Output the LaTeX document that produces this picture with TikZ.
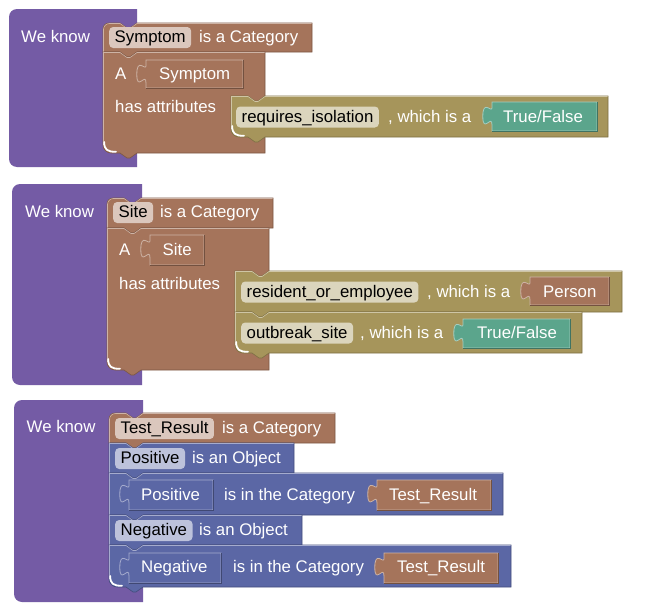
\documentclass[tikz,border=0pt]{standalone}
\usepackage{fontspec}
\setmainfont{Liberation Sans}
\definecolor{kpurple}{HTML}{745BA5}
\definecolor{kbrown}{HTML}{A5745B}
\definecolor{kolive}{HTML}{A6955B}
\definecolor{kteal}{HTML}{5BA58C}
\definecolor{kblue}{HTML}{5B67A5}
\newcommand\blkfont{\fontsize{16.8}{20}\selectfont}
% top-level block, rounded left corners
\newcommand\mkhat[5][]{\path[#1] (#2+8,#3) -- (#4,#3) -- (#4,#5) -- (#2+8,#5) .. controls (#2+3.6,#5) and (#2,#5-3.6) .. (#2,#5-8) -- (#2,#3+8) .. controls (#2,#3+3.6) and (#2+3.6,#3) .. (#2+8,#3) -- cycle;}
% statement block with notch on top and tab at bottom; #1 colour, #6 top-left radius, #7 bottom-left radius
\newcommand\mkstmt[7]{%
  \path[blkpath=#1] (#2+#6,#3) -- (#2+17,#3) -- (#2+24,#3+5) -- (#2+27,#3+5) -- (#2+34,#3) -- (#4,#3) -- (#4,#5) -- (#2+34,#5) -- (#2+27,#5+5) -- (#2+24,#5+5) -- (#2+17,#5) -- (#2+#7,#5) .. controls (#2+0.45*#7,#5) and (#2,#5-0.45*#7) .. (#2,#5-#7) -- (#2,#3+#6) .. controls (#2,#3+0.45*#6) and (#2+0.45*#6,#3) .. (#2+#6,#3) -- cycle;
  \draw[blkhl=#1] (#2+0.5,#5-#7) -- (#2+0.5,#3+#6+0.5) .. controls (#2+0.5,#3+0.45*#6+0.5) and (#2+0.45*#6+0.5,#3+0.5) .. (#2+#6+0.5,#3+0.5) -- (#2+17,#3+0.5) -- (#2+24,#3+5.5) -- (#2+27,#3+5.5) -- (#2+34,#3+0.5) -- (#4-0.5,#3+0.5);}
% value block with output tab on the left; #1 colour
\newcommand\mkval[5]{%
  \path[valpath=#1] (#2,#3) -- (#4,#3) -- (#4,#5) -- (#2,#5) -- (#2,#3+23) .. controls (#2,#3+11.5) and (#2-9.2,#3+32.2) .. (#2-9.2,#3+14.4) .. controls (#2-9.2,#3-3.45) and (#2,#3+11.5) .. (#2,#3+5.75) -- cycle;
  \draw[valdark=#1] (#4,#3) -- (#4,#5) -- (#2,#5);}
% white highlight of an inner bottom-left corner
\newcommand\mkhl[2]{\draw[hl] (#1+1.2,#2-11) .. controls (#1+1.2,#2-3.5) and (#1+4,#2-1.2) .. (#1+13,#2-1.2);}
\tikzset{
  lbl/.style={text=white, inner sep=0pt, anchor=base west, font=\blkfont},
  fldnode/.style={text=black, anchor=base west, inner xsep=5.5pt, inner ysep=0pt, text height=15.5pt, text depth=5.5pt, rounded corners=4pt, font=\blkfont},
  blkpath/.style={fill=#1, draw=#1!75!black, line width=0.6pt},
  blkhl/.style={draw=#1!55!white, line width=0.6pt},
  valpath/.style={fill=#1, draw=#1!55!white, line width=0.8pt},
  valdark/.style={draw=#1!70!black, line width=0.8pt},
  hl/.style={draw=white, line width=1.8pt, line cap=round},
}
\begin{document}
\begin{tikzpicture}[x=1pt,y=-1pt]
\useasboundingbox[fill=white] (0,0) rectangle (645,613);

% ---------------- block 1
\mkhat[fill=kpurple]{9}{9}{137}{167}
\node[lbl] (wk1) at (21,42.5) {We know};
\mkstmt{kbrown}{103}{23}{312}{52}{6}{0}
\node[fldnode, fill=kbrown!40!white] (h1f) at (109,42.5) {Symptom};
\node[lbl] (h1t) at (199,42.5) {is a Category};
\mkstmt{kbrown}{103}{52}{265}{153}{0}{8}
\mkhl{103}{153}
\node[lbl] (a1) at (115,79.5) {A};
\mkval{kbrown}{146}{60}{243}{88}
\node[lbl] (v1) at (159,79.5) {Symptom};
\node[lbl] (ha1) at (115,112) {has attributes};
\mkstmt{kolive}{231}{96}{608}{137}{0}{8}
\mkhl{231}{137}
\node[fldnode, fill=kolive!40!white] (o1f) at (236,122) {requires\_isolation};
\node[lbl] (o1t) at (388,122) {, which is a};
\mkval{kteal}{492}{102}{597}{131}
\node[lbl] (o1v) at (503,122) {True/False};

% ---------------- block 2
\mkhat[fill=kpurple]{12}{184}{142}{385}
\node[lbl] (wk2) at (25,217) {We know};
\mkstmt{kbrown}{107}{198}{273}{228}{6}{0}
\node[fldnode, fill=kbrown!40!white] (h2f) at (113,217.5) {Site};
\node[lbl] (h2t) at (160,217.5) {is a Category};
\mkstmt{kbrown}{107}{228}{269}{370}{0}{8}
\mkhl{107}{370}
\node[lbl] (a2) at (119,255.5) {A};
\mkval{kbrown}{150}{235}{204}{265}
\node[lbl] (v2) at (162.5,255.5) {Site};
\node[lbl] (ha2) at (119,289) {has attributes};
\mkstmt{kolive}{235}{271}{622}{312}{0}{0}
\node[fldnode, fill=kolive!40!white] (o2f) at (241,297) {resident\_or\_employee};
\node[lbl] (o2t) at (427,297) {, which is a};
\mkval{kbrown}{530}{277}{609}{305}
\node[lbl] (o2v) at (543,297) {Person};
\mkstmt{kolive}{235}{312}{582}{353}{0}{8}
\mkhl{235}{353}
\node[fldnode, fill=kolive!40!white] (o3f) at (241,338) {outbreak\_site};
\node[lbl] (o3t) at (360,338) {, which is a};
\mkval{kteal}{463}{319}{570}{348}
\node[lbl] (o3v) at (477,338) {True/False};

% ---------------- block 3
\mkhat[fill=kpurple]{14}{400}{143}{602}
\node[lbl] (wk3) at (26.5,432) {We know};
\mkstmt{kbrown}{109}{413}{335}{443}{6}{0}
\node[fldnode, fill=kbrown!40!white] (h3f) at (115,433.5) {Test\_Result};
\node[lbl] (h3t) at (222,433.5) {is a Category};
\mkstmt{kblue}{109}{443}{294}{473}{0}{0}
\node[fldnode, fill=kblue!40!white] (p1f) at (115,463.5) {Positive};
\node[lbl] (p1t) at (192,463.5) {is an Object};
\mkstmt{kblue}{109}{473}{503}{515}{0}{0}
\mkval{kblue}{129}{480}{213}{510}
\node[lbl] (p2v) at (141,500.5) {Positive};
\node[lbl] (p2t) at (224,500.5) {is in the Category};
\mkval{kbrown}{377}{480}{491}{510}
\node[lbl] (p2c) at (389,500.5) {Test\_Result};
\mkstmt{kblue}{109}{515}{302}{545}{0}{0}
\node[fldnode, fill=kblue!40!white] (n1f) at (115,535.5) {Negative};
\node[lbl] (n1t) at (199,535.5) {is an Object};
\mkstmt{kblue}{109}{545}{511}{587}{0}{8}
\mkhl{109}{587}
\mkval{kblue}{129}{553}{221}{583}
\node[lbl] (n2v) at (141,572.5) {Negative};
\node[lbl] (n2t) at (233,572.5) {is in the Category};
\mkval{kbrown}{384}{553}{498}{583}
\node[lbl] (n2c) at (397,572.5) {Test\_Result};
\end{tikzpicture}
\end{document}
